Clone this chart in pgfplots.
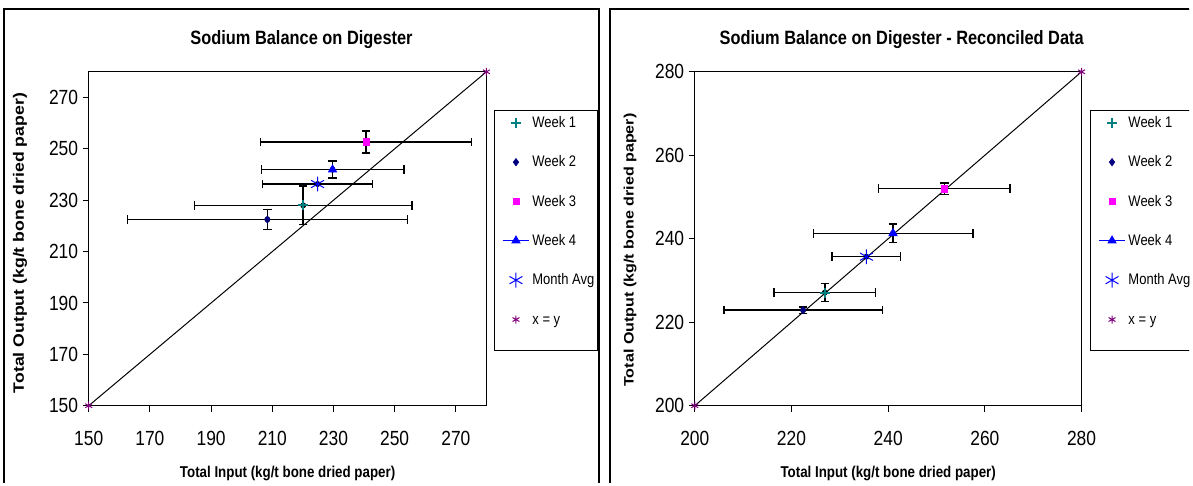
\documentclass[border=0pt]{standalone}
\usepackage{graphicx}
\usepackage{pgfplots}
\pgfplotsset{compat=1.18}
\usepackage{fontspec}
\setmainfont{Liberation Sans}[FakeStretch=0.85]
\newfontfamily\plainfont{Liberation Sans}
\definecolor{wteal}{RGB}{0,128,128}
\definecolor{wnavy}{RGB}{0,0,128}
\definecolor{wmag}{RGB}{255,0,255}
\definecolor{wblue}{RGB}{0,0,255}
\definecolor{wpurp}{RGB}{128,0,128}
\pgfplotsset{
 panel/.style={
  scale only axis, height=251.25pt,
  axis line style={line width=0.75pt},
  tick align=outside, major tick length=4.5pt,
  tick style={black, line width=0.75pt},
  xtick pos=left, ytick pos=left,
  /pgf/number format/assume math mode=true,
  ticklabel style={font=\fontsize{15.4}{17}\selectfont},
  xticklabel style={yshift=-11pt},
  xlabel style={font=\bfseries\fontsize{11.8}{13}\selectfont, at={(axis description cs:0.5,-0.203)}, anchor=center},
  title style={font=\bfseries\fontsize{14.5}{16}\selectfont, anchor=center},
  clip=false,
  legend cell align=left,
  legend image code/.code={\draw[mark repeat=2,mark phase=2,##1] plot coordinates {(0pt,0pt) (10pt,0pt) (20pt,0pt)};},
  legend style={draw=none, fill=none, anchor=north west, inner sep=0pt, row sep=18.55pt,
    font=\fontsize{11.5}{13}\selectfont,
    nodes={inner sep=0pt, inner xsep=2pt, text height=9pt, text depth=2pt}},
 },
 eb/.style={forget plot, only marks, mark=none, error bars/.cd, x dir=both, x explicit, y dir=both, y explicit,
   error bar style={draw=black, line width=1.1pt},
   error mark options={rotate=90, draw=black, mark size=3.2pt, line width=1.1pt}},
 w1/.style={only marks, color=wteal, mark=+, mark size=3.8pt, line width=1.4pt},
 w2/.style={only marks, color=wnavy, mark=diamond*, mark size=2.8pt},
 w3/.style={only marks, color=wmag, mark=square*, mark size=2.4pt},
 w4/.style={color=wblue, line width=0.75pt, mark=triangle*, mark size=3.4pt},
 ma/.style={only marks, color=wblue, mark=asterisk, mark size=5.6pt, line width=0.75pt},
 xy/.style={only marks, color=wpurp, mark=asterisk, mark size=3pt, line width=0.75pt},
}
\begin{document}
\begin{tikzpicture}
\begin{scope}[x=0.75pt,y=-0.75pt]
\useasboundingbox (0,0) rectangle (1193,484);
\clip (0,0) rectangle (1193,484);
\draw[line width=1.5pt] (4,9) rectangle (601,500);
\draw[line width=1.5pt] (612,9) rectangle (1210,500);
\draw[line width=0.75pt] (496,111) rectangle (599,352);
\draw[line width=0.75pt] (1094,111) rectangle (1210,352);
\end{scope}
% ---------- left panel ----------
\begin{axis}[panel, at={(66.75pt,-54pt)}, anchor=north west, width=299.25pt,
  xmin=150, xmax=280, ymin=150, ymax=280,
  xtick={150,170,...,270}, ytick={150,170,...,270},
  title={Sodium Balance on Digester},
  title style={at={(axis description cs:0.535,1.0716)}},
  xlabel={Total Input (kg/t bone dried paper)},
  ylabel={\scalebox{1}[0.85]{\plainfont\bfseries\fontsize{13.3}{15}\selectfont Total Output (kg/t bone dried paper)}},
  ylabel style={at={(axis description cs:-0.173,0.487)}, anchor=center},
  legend style={at={(axis description cs:1.0389,0.8696)}},
]
\addplot[black, line width=0.75pt, forget plot] coordinates {(150,150) (280,280)};
% error bars first
\addplot[eb] coordinates {(220.1,228.0) +- (35.5,7.5)};
\addplot[eb] coordinates {(208.4,222.5) +- (45.8,3.9)};
\addplot[eb] coordinates {(240.7,252.7) +- (34.5,4.3)};
\addplot[eb] coordinates {(229.7,241.9) +- (23.3,3.3)};
\addplot[eb] coordinates {(224.8,236.3) +- (18.0,0)};
% markers
\addplot[w1] coordinates {(220.1,228.0)};
\addplot[w2] coordinates {(208.4,222.5)};
\addplot[w3] coordinates {(240.7,252.7)};
\addplot[w4] coordinates {(229.7,241.9)};
\addplot[ma] coordinates {(224.8,236.3)};
\addplot[xy] coordinates {(150,150) (280,280)};
\legend{Week 1, Week 2, Week 3, Week 4, Month Avg, x = y}
\end{axis}
% ---------- right panel ----------
\begin{axis}[panel, at={(522.75pt,-54pt)}, anchor=north west, width=291pt,
  xmin=200, xmax=280, ymin=200, ymax=280,
  xtick={200,220,...,280}, ytick={200,220,...,280},
  title={Sodium Balance on Digester - Reconciled Data},
  title style={at={(axis description cs:0.535,1.0716)}},
  xlabel={Total Input (kg/t bone dried paper)},
  ylabel={\scalebox{1}[0.85]{\plainfont\bfseries\fontsize{12.1}{14}\selectfont Total Output (kg/t bone dried paper)}},
  ylabel style={at={(axis description cs:-0.1675,0.466)}, anchor=center},
  legend style={at={(axis description cs:1.0425,0.8696)}},
]
\addplot[black, line width=0.75pt, forget plot] coordinates {(200,200) (280,280)};
\addplot[eb] coordinates {(226.9,227.1) +- (10.5,2.15)};
\addplot[eb] coordinates {(222.4,222.9) +- (16.4,0.8)};
\addplot[eb] coordinates {(251.6,252.0) +- (13.6,1.35)};
\addplot[eb] coordinates {(241.0,241.3) +- (16.5,2.2)};
\addplot[eb] coordinates {(235.5,235.7) +- (7.1,0)};
\addplot[w1] coordinates {(226.9,227.1)};
\addplot[w2] coordinates {(222.4,222.9)};
\addplot[w3] coordinates {(251.6,252.0)};
\addplot[w4] coordinates {(241.0,241.3)};
\addplot[ma] coordinates {(235.5,235.7)};
\addplot[xy] coordinates {(200,200) (280,280)};
\legend{Week 1, Week 2, Week 3, Week 4, Month Avg, x = y}
\end{axis}
\end{tikzpicture}
\end{document}
